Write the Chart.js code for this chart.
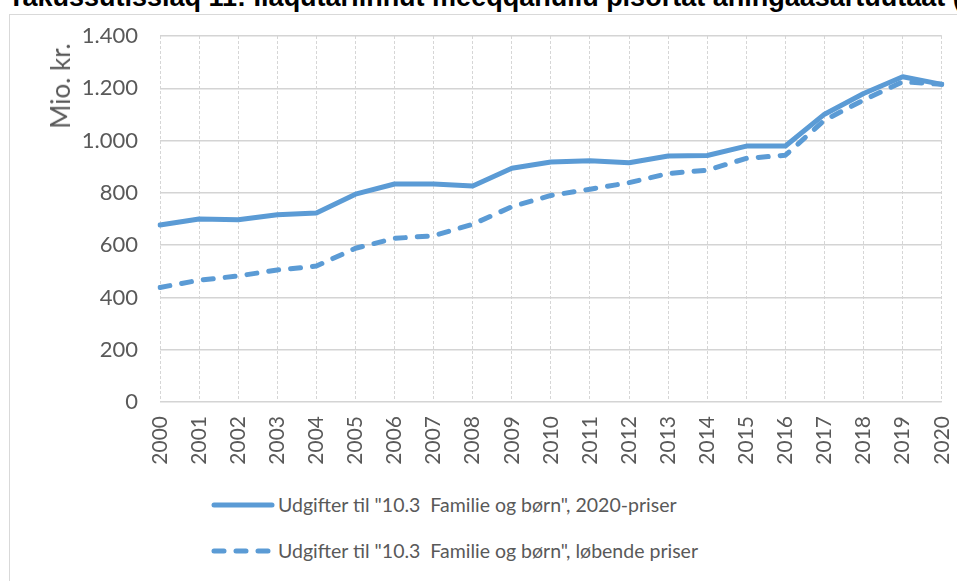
<!DOCTYPE html>
<html>
<head>
<meta charset="utf-8">
<script src="https://cdn.jsdelivr.net/npm/chart.js@4/dist/chart.umd.min.js"></script>
<style>
  html, body { margin: 0; padding: 0; background: #fff; }
  body { width: 957px; height: 581px; overflow: hidden; position: relative; font-family: Lato, sans-serif; }
  #title { position: absolute; left: 8px; top: -16px; white-space: nowrap; font: bold 27px "Liberation Sans", Arial, sans-serif; line-height: 27px; color: #000; }
  #frame { position: absolute; left: 9px; top: 14px; width: 1200px; height: 1000px; border: 1px solid #d9d9d9; }
  #wrap { position: absolute; left: 0; top: 0; width: 981px; height: 470px; }
  #ytitle { position: absolute; left: 60px; top: 86px; transform: translate(-50%, -50%) rotate(-90deg); font-size: 26px; color: #595959; white-space: nowrap; }
  .leg { position: absolute; left: 211px; display: flex; align-items: center; font-size: 19.5px; color: #595959; white-space: pre; }
  .leg svg { margin-right: 3px; }
</style>
</head>
<body>
<div id="title">Takussutissiaq 11: Ilaqutariinnut meeqqanullu pisortat aningaasartuutaat (mio. kr.)</div>
<div id="frame"></div>
<div id="wrap"><canvas id="chart"></canvas></div>
<div id="ytitle">Mio. kr.</div>
<div class="leg" id="leg1" style="top:493px;"></div>
<div class="leg" id="leg2" style="top:539px;"></div>
<script>
// --- Data ---
const years = ['2000', '2001', '2002', '2003', '2004', '2005', '2006', '2007', '2008', '2009', '2010',
               '2011', '2012', '2013', '2014', '2015', '2016', '2017', '2018', '2019', '2020'];

// Udgifter i 2020-priser
const fixedPrices = [677, 700, 697, 716, 723, 795, 834, 834, 826, 894, 918,
                     923, 915, 941, 943, 979, 979, 1101, 1180, 1244, 1215];

// Udgifter i løbende priser
const currentPrices = [438, 466, 482, 505, 520, 588, 626, 636, 680, 747, 790,
                       814, 839, 874, 887, 932, 944, 1078, 1155, 1225, 1215];

const seriesLabels = [
    'Udgifter til "10.3  Familie og børn", 2020-priser',
    'Udgifter til "10.3  Familie og børn", løbende priser'
];

const yTicks = [0, 200, 400, 600, 800, 1000, 1200, 1400];

// --- Helpers ---
const BLUE = '#5b9bd5';
const TEXT = '#595959';
const FONT = 'Lato, sans-serif';

function fmtThousands(v) {
    // Danish style: 1.400
    return String(v).replace(/\B(?=(\d{3})+(?!\d))/g, '.');
}

// --- Chart ---
const ctx = document.getElementById('chart').getContext('2d');
const chart = new Chart(ctx, {
    type: 'line',
    data: {
        labels: years,
        datasets: [
            {
                label: seriesLabels[0],
                data: fixedPrices,
                borderColor: BLUE,
                borderWidth: 5,
                borderCapStyle: 'round',
                borderJoinStyle: 'round',
                pointRadius: 0,
                tension: 0
            },
            {
                label: seriesLabels[1],
                data: currentPrices,
                borderColor: BLUE,
                borderWidth: 5,
                borderDash: [10, 12],
                borderCapStyle: 'round',
                borderJoinStyle: 'round',
                pointRadius: 0,
                tension: 0
            }
        ]
    },
    options: {
        responsive: true,
        maintainAspectRatio: false,
        animation: false,
        layout: { padding: { left: 0, right: 15, top: 36, bottom: 0 } },
        plugins: {
            legend: { display: false },
            tooltip: { enabled: false }
        },
        scales: {
            x: {
                offset: false,
                grid: { color: '#d6d6d6', lineWidth: 1, drawTicks: false },
                border: { display: false, dash: [3, 2] },
                ticks: {
                    color: TEXT,
                    font: { family: FONT, size: 21 },
                    maxRotation: 90,
                    minRotation: 90,
                    padding: 14,
                    autoSkip: false
                },
                afterFit: (scale) => { scale.height = 68; }
            },
            y: {
                min: 0,
                max: 1400,
                afterBuildTicks: (scale) => { scale.ticks = yTicks.map(v => ({ value: v })); },
                grid: { color: '#d4d4d4', lineWidth: 1.4, drawTicks: false },
                border: { display: false },
                ticks: {
                    color: TEXT,
                    font: { family: FONT, size: 22 },
                    padding: 22,
                    callback: (v) => fmtThousands(v)
                },
                afterFit: (scale) => { scale.width = 160; }
            }
        }
    }
});

// --- Legend (HTML, styled from the datasets) ---
function legendItem(el, ds) {
    const dash = ds.borderDash ? ds.borderDash.join(' ') : '';
    el.innerHTML =
        '<svg width="64" height="10"><line x1="3" y1="5" x2="61" y2="5" stroke="' + ds.borderColor +
        '" stroke-width="' + ds.borderWidth + '" stroke-linecap="round"' +
        (dash ? ' stroke-dasharray="' + dash + '"' : '') + '/></svg><span></span>';
    el.querySelector('span').textContent = ds.label;
}
legendItem(document.getElementById('leg1'), chart.data.datasets[0]);
legendItem(document.getElementById('leg2'), chart.data.datasets[1]);
</script>
</body>
</html>
